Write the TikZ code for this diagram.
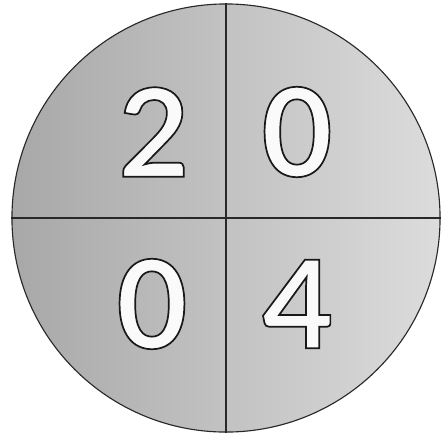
\documentclass[tikz,border=0pt]{standalone}
\usepackage{fontspec}
\newfontfamily\digitfont[FakeBold=1.4]{Lato Bold}
\usetikzlibrary{positioning}
\definecolor{discleft}{RGB}{168,168,168}
\definecolor{discright}{RGB}{220,220,220}
\definecolor{rim}{RGB}{40,40,40}
\tikzset{
    disc/.style={circle, draw=rim, line width=0.8pt, minimum size=10.7cm, inner sep=0pt,
        left color=discleft, right color=discright},
    divider/.style={draw=rim, line width=0.8pt},
    digit/.style={inner sep=0pt, font=\fontsize{87}{87}\digitfont}
}
% white fill, black stroke for the glyph outline
\newcommand{\outlined}[1]{\special{pdf:bcolor [0.98] [0.1]}#1\special{pdf:ecolor}}

\begin{document}
\begin{tikzpicture}[x=0.025cm, y=-0.025cm]
    \useasboundingbox (0,0) rectangle (441,436);
    % disc
    \node[disc] (disc) at (226,218) {};

    % cross
    \draw[divider] (disc.north) -- (disc.south);
    \draw[divider] (disc.west) -- (disc.east);

    % digits
    \node[digit] (d1) at (154,132) {\outlined{2}};
    \node[digit] (d2) at (297,132) {\outlined{0}};
    \node[digit] (d3) at (152,304) {\outlined{0}};
    \node[digit] (d4) at (298,304) {\outlined{4}};
\end{tikzpicture}
\end{document}
